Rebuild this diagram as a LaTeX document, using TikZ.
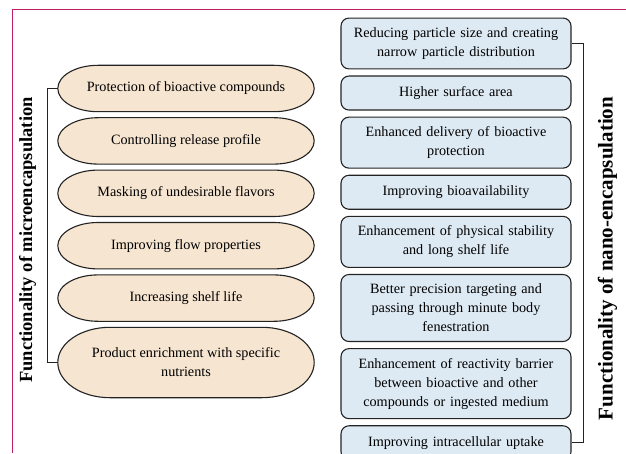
\documentclass[tikz,border=0pt]{standalone}
\usepackage{fontspec}
\setmainfont{Liberation Serif}
\usetikzlibrary{positioning,calc,backgrounds}

\definecolor{capsulefill}{RGB}{246,229,208}
\definecolor{boxfill}{RGB}{222,234,243}
\definecolor{framecol}{RGB}{190,30,105}
\definecolor{edgecol}{RGB}{35,35,35}

\tikzset{
	micro/.style={rectangle, minimum width=256pt, minimum height=46pt, inner ysep=9pt,
		align=center, font=\fontsize{14.2}{19}\selectfont},
	nano/.style={rectangle, draw=edgecol, fill=boxfill, line width=1.1pt, rounded corners=8pt,
		minimum width=230pt, minimum height=34pt, inner ysep=9.5pt, text width=216pt,
		align=center, font=\fontsize{14.2}{19}\selectfont},
	capsule/.style={draw=edgecol, fill=capsulefill, line width=1.1pt},
	bracket/.style={draw=edgecol, line width=0.9pt},
	sidelabel/.style={rotate=90, font=\fontsize{18.5}{22}\bfseries\selectfont}
}

\begin{document}
\begin{tikzpicture}[x=1pt, y=1pt, node distance=6pt]
	\useasboundingbox (0,0) rectangle (626,453);
	\draw[framecol, line width=1.2pt] (12.5,0) -- (12.5,443.5) -- (626,443.5);

	% microencapsulation
	\node[micro] (m1) at (186,364.5) {Protection of bioactive compounds};
	\node[micro, below=of m1] (m2) {Controlling release profile};
	\node[micro, below=of m2] (m3) {Masking of undesirable flavors};
	\node[micro, below=of m3] (m4) {Improving flow properties};
	\node[micro, below=of m4] (m5) {Increasing shelf life};
	\node[micro, below=of m5, minimum height=70pt] (m6) {Product enrichment with specific\\nutrients};
	\begin{scope}[on background layer]
		\foreach \i in {1,...,6}
			\draw[capsule] let \p1=(m\i.north west), \p2=(m\i.south east), \n1={(\y1-\y2)/2}, \n2={\n1+17} in
				(\x1+\n2,\y1) -- (\x2-\n2,\y1) arc[start angle=90, end angle=-90, x radius=\n2, y radius=\n1]
				-- (\x1+\n2,\y2) arc[start angle=270, end angle=90, x radius=\n2, y radius=\n1] -- cycle;
	\end{scope}

	% nano-encapsulation
	\node[nano] (n1) at (456,409.5) {Reducing particle size and creating\\narrow particle distribution};
	\node[nano, below=of n1] (n2) {Higher surface area};
	\node[nano, below=of n2] (n3) {Enhanced delivery of bioactive\\protection};
	\node[nano, below=of n3] (n4) {Improving bioavailability};
	\node[nano, below=of n4] (n5) {Enhancement of physical stability\\and long shelf life};
	\node[nano, below=of n5] (n6) {Better precision targeting and\\passing through minute body\\fenestration};
	\node[nano, below=of n6] (n7) {Enhancement of reactivity barrier\\between bioactive and other\\compounds or ingested medium};
	\node[nano, below=of n7] (n8) {Improving intracellular uptake};

	\draw[bracket] (m1.west) -- ++(-10pt,0) |- (m6.west);
	\draw[bracket] (n1.east) -- ++(12pt,0) |- (n8.east);

	\node[sidelabel] (labmicro) at (27.5,213) {Functionality of microencapsulation};
	\node[sidelabel, font=\fontsize{21}{24}\bfseries\selectfont] (labnano) at (607.5,194.5) {Functionality of nano-encapsulation};
\end{tikzpicture}
\end{document}
